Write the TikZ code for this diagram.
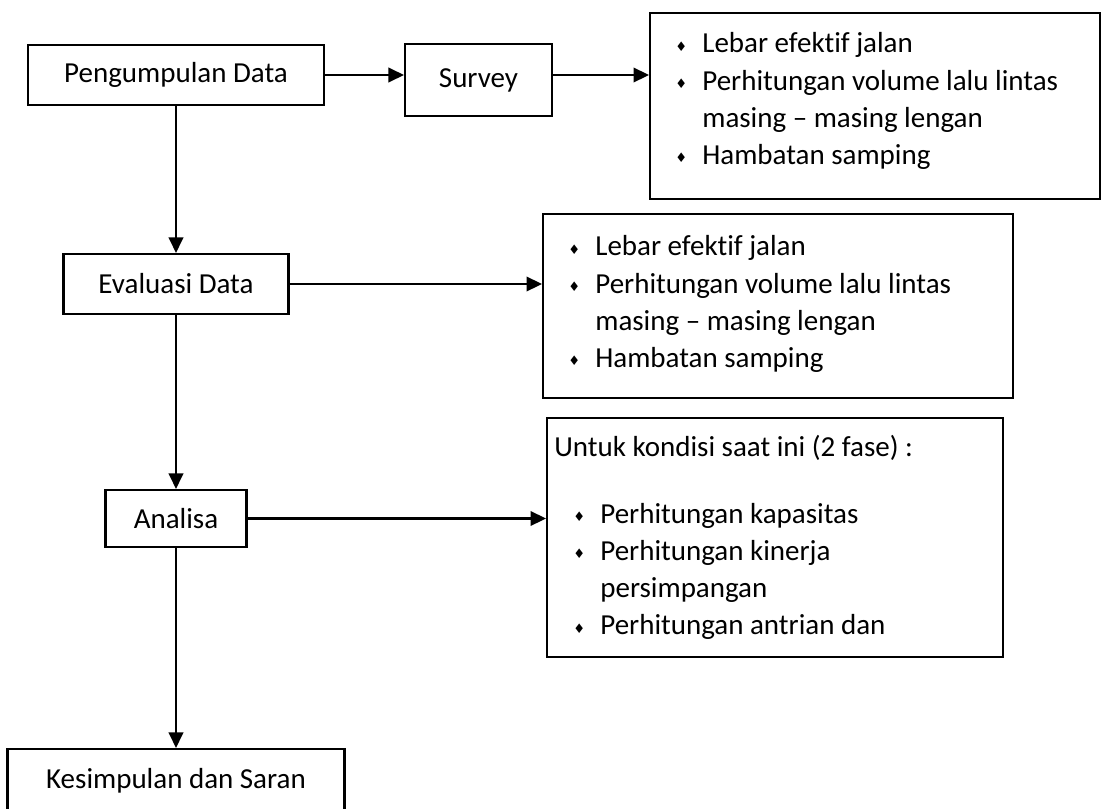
\documentclass[tikz,border=0pt]{standalone}
\usepackage{fontspec}
\setmainfont{Carlito}[Ligatures=NoCommon]
\newfontfamily\symfont{DejaVu Sans}
\usetikzlibrary{arrows.meta,positioning}

% bullet in the lists
\newcommand{\dia}{\makebox[5.4mm][l]{\raisebox{1pt}{\symfont\fontsize{7.5}{7.5}\selectfont ♦}}}
\newcommand{\gap}{\hspace*{5.4mm}}

\begin{document}
\begin{tikzpicture}[
    x=0.02cm, y=-0.02cm,
    stepbox/.style={draw, line width=1.2pt, inner sep=0pt, font=\fontsize{16.5}{21.2}\selectfont},
    listbox/.style={draw, line width=1.2pt, inner sep=0pt},
    list/.style={anchor=north west, inner sep=0pt, align=left, font=\fontsize{16.5}{21.2}\selectfont},
    flow/.style={-{Triangle[length=3.1mm,width=2.9mm]}, line width=1.3pt},
  ]
  \useasboundingbox (0,0) rectangle (1105,808);
  \clip (0,0) rectangle (1105,808);

  % ---- main column
  \node[stepbox, minimum width=5.92cm, minimum height=1.2cm]  (collect) at (176,75)    {Pengumpulan Data};
  \node[stepbox, minimum width=2.94cm, minimum height=1.44cm] (survey)  at (478.5,80)  {Survey};
  \node[stepbox, minimum width=4.5cm,  minimum height=1.2cm]  (eval)    at (176,284)   {Evaluasi Data};
  \node[stepbox, minimum width=2.82cm, minimum height=1.14cm] (anal)    at (176,518.5) {Analisa};
  \node[stepbox, minimum width=6.74cm, minimum height=1.26cm] (concl)   at (176,780.5) {Kesimpulan dan Saran};

  % ---- side boxes
  \node[listbox, minimum width=9.0cm,  minimum height=3.72cm] (box1) at (875,106)   {};
  \node[listbox, minimum width=9.4cm,  minimum height=3.68cm] (box2) at (778,306)   {};
  \node[listbox, minimum width=9.12cm, minimum height=4.78cm] (box3) at (775,537.5) {};

  \node[list] (list1) at (675,32.5)
    {\dia Lebar efektif jalan\\
     \dia Perhitungan volume lalu lintas\\
     \gap masing -- masing lengan\\
     \dia Hambatan samping};
  \node[list] (list2) at (568,235.5)
    {\dia Lebar efektif jalan\\
     \dia Perhitungan volume lalu lintas\\
     \gap masing -- masing lengan\\
     \dia Hambatan samping};
  \node[list] (list3) at (554,434.5)
    {Untuk kondisi saat ini (2 fase) :\\[17pt]
     \hspace*{3.8mm}\dia Perhitungan kapasitas\\
     \hspace*{3.8mm}\dia Perhitungan kinerja\\
     \hspace*{3.8mm}\gap persimpangan\\
     \hspace*{3.8mm}\dia Perhitungan antrian dan};

  % ---- connectors
  \draw[flow] (collect.east) -- (survey.west |- collect.east);
  \draw[flow] (survey.east |- collect.east) -- (box1.west |- collect.east);
  \draw[flow] (collect.south) -- (eval.north);
  \draw[flow] (eval.east) -- (box2.west |- eval.east);
  \draw[flow] (eval.south) -- (anal.north);
  \draw[flow] (anal.east) -- (box3.west |- anal.east);
  \draw[flow] (anal.south) -- (concl.north);
\end{tikzpicture}
\end{document}
